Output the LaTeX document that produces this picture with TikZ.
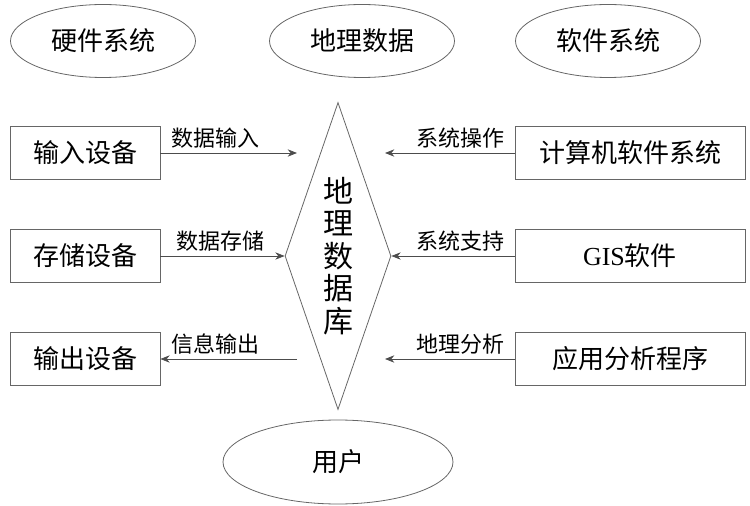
\documentclass[tikz,border=0pt]{standalone}
\usepackage{fontspec}
\setmainfont{Liberation Serif}
\newfontfamily\cjk{Noto Sans CJK SC}
\usetikzlibrary{shapes.geometric,
                arrows.meta,
                positioning}

\begin{document}
\begin{tikzpicture}[
x = 0.75pt, y = -0.75pt,
node distance = 77.25pt and 0pt, on grid,
every node/.style = {font=\cjk\fontsize{19.5}{22}\selectfont},
oval/.style = {ellipse, draw=black!60, line width=0.6pt, minimum width=138.75pt, minimum height=54.75pt},
box/.style  = {rectangle, draw=black!60, line width=0.6pt, minimum width=112.5pt, minimum height=39.75pt},
wbox/.style = {box, minimum width=172.5pt},
dia/.style  = {diamond, draw=black!60, line width=0.6pt, aspect=0.345, inner sep=0pt,
               minimum width=79.5pt, minimum height=230.25pt},
lbl/.style  = {font=\cjk\fontsize{16.5}{18}\selectfont, above, inner sep=1pt, yshift=2pt},
arr/.style  = {draw=black!70, line width=0.6pt, -{Stealth[length=7pt,width=5.5pt]}}
                    ]
    \useasboundingbox (0,0) rectangle (750,506);
    % top row
    \node[oval] (hw)  at (103,41) {硬件系统};
    \node[oval] (geo) at (362,41) {地理数据};
    \node[oval] (sw)  at (608,41) {软件系统};
    % left column
    \node[box] (in)  at (85,153) {输入设备};
    \node[box] (store)[below of=in]   {存储设备};
    \node[box] (out)  [below of=store]{输出设备};
    % right column
    \node[wbox] (comp) at (630,153) {计算机软件系统};
    \node[wbox] (gis) [below of=comp] {{\rmfamily GIS}软件};
    \node[wbox] (app) [below of=gis]  {应用分析程序};
    % centre
    \node[dia] (db) at (338,256) {};
    \node[font=\cjk\fontsize{22.5}{24.4}\selectfont, align=center] (dbtxt) at (db) {地\\理\\数\\据\\库};
    \node[oval, minimum width=172.5pt, minimum height=63pt] (user) at (338,462) {用户};

    \coordinate (a1) at (297,153);
    \coordinate (a3) at (297,359);
    \coordinate (b1) at (385,153);
    \coordinate (b3) at (385,359);

    \draw[arr] (in) -- (a1) node[lbl, pos=.4] (l1) {数据输入};
    \draw[arr] (store) -- (db.west) node[lbl, pos=.48] (l2) {数据存储};
    \draw[arr] (a3) -- (out) node[lbl, pos=.6] (l3) {信息输出};
    \draw[arr] (comp) -- (b1) node[lbl, pos=.42] (r1) {系统操作};
    \draw[arr] (gis) -- (db.east) node[lbl, pos=.44] (r2) {系统支持};
    \draw[arr] (app) -- (b3) node[lbl, pos=.42] (r3) {地理分析};
\end{tikzpicture}
\end{document}
